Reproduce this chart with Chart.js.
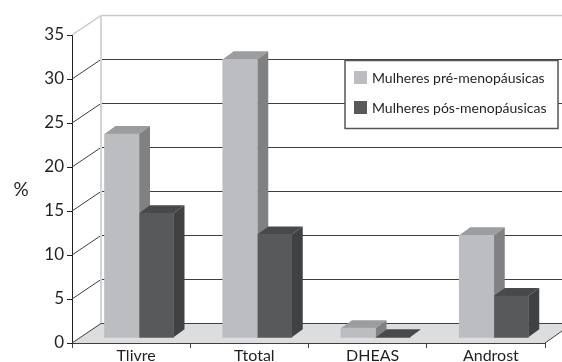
<!DOCTYPE html>
<html>
<head>
<meta charset="utf-8">
<style>
    html, body { margin: 0; padding: 0; background: #fff; }
    #box { width: 562px; height: 362px; }
</style>
<script src="https://cdn.jsdelivr.net/npm/chart.js@4"></script>
</head>
<body>
<div id="box"><canvas id="grafico"></canvas></div>
<script>
//Datos
var categorias = ["Tlivre", "Ttotal", "DHEAS", "Androst"];
var nomes = ["Mulheres pré-menopáusicas", "Mulheres pós-menopáusicas"];
var pre = [23.1, 31.6, 1.05, 11.6];
var pos = [14.1, 11.7, 0, 4.7];

//Colores: frente, arriba, lado
var c_pre = ["#bcbdc0", "#9c9d9f", "#808183"];
var c_pos = ["#58595b", "#48494b", "#404143"];
var fuente = "Lato, 'Open Sans', sans-serif";

//Profundidad 3D
var prof_x = 29, prof_y = 20;   //pared del fondo
var bar_x = 11, bar_y = 8;      //barras

function puntos(valores){
    return valores.map(function(v, i){ return {x: i, y: v}; });
}

function poligono(ctx, p, color){
    ctx.fillStyle = color;
    ctx.beginPath();
    ctx.moveTo(p[0][0], p[0][1]);
    for(var a = 1; a < p.length; a++) ctx.lineTo(p[a][0], p[a][1]);
    ctx.closePath();
    ctx.fill();
}

//Paredes, piso y caras laterales de las barras
var fondo3d = {
    id: "fondo3d",
    beforeDatasetsDraw: function(chart){
        var ctx = chart.ctx, y = chart.scales.y, area = chart.chartArea;
        var y0 = y.getPixelForValue(0), der = chart.width;
        ctx.save();
        //piso
        poligono(ctx, [
            [area.left, y0], [area.left + prof_x, y0 - prof_y],
            [der, y0 - prof_y], [der, y0 - 12], [area.right, y0]
        ], "#dcddde");
        //lineas de la pared
        y.ticks.forEach(function(t){
            var py = y.getPixelForValue(t.value);
            var atras = Math.round(py - prof_y) + 0.5;
            var arriba = t.value == 35;
            ctx.strokeStyle = arriba ? "#c8c9cb" : "#3f3f41";
            ctx.lineWidth = arriba ? 1.5 : 1;
            ctx.beginPath();
            ctx.moveTo(area.left, py);
            ctx.lineTo(area.left + prof_x, atras);
            ctx.lineTo(der, atras);
            ctx.stroke();
        });
        //borde izquierdo del fondo
        ctx.strokeStyle = "#d4d5d6";
        ctx.lineWidth = 2;
        ctx.beginPath();
        ctx.moveTo(area.left + prof_x, y.getPixelForValue(35) - prof_y);
        ctx.lineTo(area.left + prof_x, y0 - prof_y);
        ctx.stroke();
        //borde derecho del piso
        ctx.strokeStyle = "#3f3f41";
        ctx.lineWidth = 1;
        ctx.beginPath();
        ctx.moveTo(area.right, y0);
        ctx.lineTo(der, y0 - 12);
        ctx.stroke();
        //caras de las barras
        [c_pre, c_pos].forEach(function(col, d){
            chart.getDatasetMeta(d).data.forEach(function(b){
                var izq = b.x - b.width / 2, dch = b.x + b.width / 2;
                poligono(ctx, [
                    [izq, b.y], [izq + bar_x, b.y - bar_y],
                    [dch + bar_x, b.y - bar_y], [dch, b.y]
                ], col[1]);
                poligono(ctx, [
                    [dch, b.y], [dch + bar_x, b.y - bar_y],
                    [dch + bar_x, b.base - bar_y], [dch, b.base]
                ], col[2]);
            });
        });
        ctx.restore();
    },
    afterDatasetsDraw: function(chart){
        var ctx = chart.ctx;
        ctx.save();
        //leyenda
        ctx.fillStyle = "#fff";
        ctx.strokeStyle = "#555658";
        ctx.lineWidth = 1.5;
        ctx.fillRect(345, 60.5, 213, 68);
        ctx.strokeRect(345, 60.5, 213, 68);
        ctx.font = "14px " + fuente;
        ctx.textBaseline = "middle";
        ctx.textAlign = "left";
        nomes.forEach(function(n, i){
            var ly = 77.5 + i * 30;
            ctx.fillStyle = i == 0 ? c_pre[0] : c_pos[0];
            ctx.fillRect(354, ly - 6.5, 13, 13);
            ctx.fillStyle = "#231f20";
            ctx.fillText(n, 372, ly + 1);
        });
        //titulo del eje
        ctx.font = "19px " + fuente;
        ctx.textAlign = "center";
        ctx.fillText("%", 21, 190);
        ctx.restore();
    }
};

var grafico = new Chart(document.getElementById("grafico"), {
    type: "bar",
    plugins: [fondo3d],
    data: {
        labels: categorias,
        datasets: [
            {label: nomes[0], data: puntos(pre), backgroundColor: c_pre[0], xAxisID: "xBar", yAxisID: "yBar"},
            {label: nomes[1], data: puntos(pos), backgroundColor: c_pos[0], xAxisID: "xBar", yAxisID: "yBar"}
        ]
    },
    options: {
        responsive: true,
        maintainAspectRatio: false,
        animation: false,
        barThickness: 34.5,
        layout: {padding: {top: 35, right: 17, left: 0, bottom: 0}},
        plugins: {legend: {display: false}, tooltip: {enabled: false}},
        scales: {
            x: {
                type: "category",
                afterFit: function(s){ s.height = 19; },
                border: {color: "#3f3f41"},
                grid: {drawOnChartArea: false, color: "#3f3f41", tickLength: 5},
                ticks: {color: "#231f20", font: {family: fuente, size: 16}, padding: -2, labelOffset: 5, maxRotation: 0}
            },
            y: {
                min: 0, max: 35,
                afterFit: function(s){ s.width = 72; },
                border: {color: "#231f20"},
                grid: {drawOnChartArea: false, color: "#231f20", tickLength: 5},
                ticks: {stepSize: 5, color: "#231f20", font: {family: fuente, size: 17}, padding: 3}
            },
            //ejes ocultos de las barras, corridos hacia el fondo
            xBar: {type: "linear", display: false, offset: false, min: -0.5666, max: 3.4334},
            yBar: {type: "linear", display: false, min: -0.64, max: 34.36}
        }
    }
});
</script>
</body>
</html>
